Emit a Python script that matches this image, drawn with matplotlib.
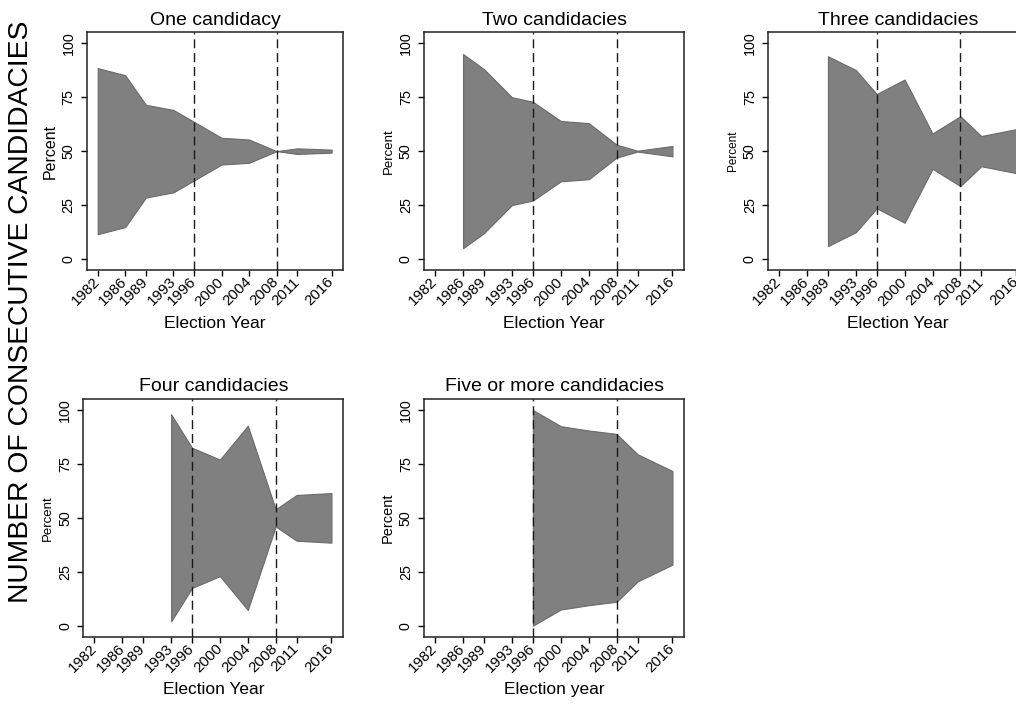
import matplotlib
matplotlib.use("Agg")
import matplotlib.pyplot as plt

plt.rcParams['font.family'] = ['Liberation Sans', 'DejaVu Sans']

year_ticks = [1982, 1986, 1989, 1993, 1996, 2000, 2004, 2008, 2011, 2016]
y_ticks = [0, 25, 50, 75, 100]
ref_years = [1996, 2008]

# One candidacy
years_1 = [1982, 1986, 1989, 1993, 1996, 2000, 2004, 2008, 2011, 2016]
upper_1 = [88.5, 85.2, 71.5, 69.1, 63.6, 56.2, 55.4, 50.0, 51.3, 50.7]
lower_1 = [11.5, 14.8, 28.5, 30.9, 36.4, 43.8, 44.6, 50.0, 48.7, 49.3]

# Two candidacies
years_2 = [1986, 1989, 1993, 1996, 2000, 2004, 2008, 2011, 2016]
upper_2 = [95.0, 88.0, 75.0, 72.9, 64.0, 63.0, 53.0, 50.2, 52.4]
lower_2 = [5.0, 12.0, 25.0, 27.1, 36.0, 37.0, 47.0, 49.8, 47.6]

# Three candidacies
years_3 = [1989, 1993, 1996, 2000, 2004, 2008, 2011, 2016]
upper_3 = [94.0, 87.6, 76.5, 83.2, 58.2, 66.2, 57.0, 60.2]
lower_3 = [6.0, 12.4, 23.5, 16.8, 41.8, 33.8, 43.0, 39.8]

# Four candidacies
years_4 = [1993, 1996, 2000, 2004, 2008, 2011, 2016]
upper_4 = [98.0, 82.5, 77.0, 92.7, 54.0, 60.6, 61.5]
lower_4 = [2.0, 17.5, 23.0, 7.3, 46.0, 39.4, 38.5]

# Five or more candidacies
years_5 = [1996, 2000, 2004, 2008, 2011, 2016]
upper_5 = [100.0, 92.5, 90.5, 88.9, 79.5, 71.7]
lower_5 = [0.0, 7.5, 9.5, 11.1, 20.5, 28.3]

titles = ["One candidacy", "Two candidacies", "Three candidacies",
          "Four candidacies", "Five or more candidacies"]
xlabels = ["Election Year", "Election Year", "Election Year",
           "Election Year", "Election year"]
percent_sizes = [11.5, 9.5, 8.5, 9.5, 10.5]

series = [(years_1, upper_1, lower_1), (years_2, upper_2, lower_2),
          (years_3, upper_3, lower_3), (years_4, upper_4, lower_4),
          (years_5, upper_5, lower_5)]

W, H = 1016, 704
fig = plt.figure(figsize=(W / 100, H / 100), dpi=100)

boxes_px = [(86.7, 343.3, 32.3, 270.0),
            (424.0, 684.3, 32.3, 270.0),
            (768.0, 1028.0, 32.3, 270.0),
            (83.3, 343.3, 399.0, 636.7),
            (424.0, 684.3, 399.0, 636.7)]

for i, (l, r, t, b) in enumerate(boxes_px):
    ax = fig.add_axes([l / W, 1 - b / H, (r - l) / W, (b - t) / H])
    yrs, up, lo = series[i]
    ax.fill_between(yrs, lo, up, facecolor='#808080', edgecolor='#6a6a6a',
                    linewidth=0.8, zorder=2)
    for ry in ref_years:
        ax.axvline(ry, color='#1a1a1a', linewidth=1.0, dashes=(6.5, 3.5), zorder=3)
    ax.set_xlim(1980.4, 2017.7)
    ax.set_ylim(-5.1, 105.1)
    ax.set_xticks(year_ticks)
    ax.set_xticklabels([str(y) for y in year_ticks], rotation=45, ha='right',
                       va='center', rotation_mode='anchor', fontsize=10.8)
    ax.set_yticks(y_ticks)
    ax.set_yticklabels([str(v) for v in y_ticks], rotation=90, va='center',
                       fontsize=10.3)
    ax.tick_params(axis='x', length=4, width=1.0, pad=3, direction='out')
    ax.tick_params(axis='y', length=4, width=1.0, pad=4, direction='out')
    for s in ax.spines.values():
        s.set_linewidth(1.1)
        s.set_color('#222222')
    ax.set_title(titles[i], fontsize=14, pad=5.5)
    ax.set_xlabel(xlabels[i], fontsize=12.5, labelpad=5)
    ax.set_ylabel("Percent", fontsize=percent_sizes[i], labelpad=3)

fig.text(0.0207, 0.557, "NUMBER OF CONSECUTIVE CANDIDACIES", rotation=90,
         ha='center', va='center', fontsize=20.3)

fig.savefig("out.png", dpi=100)
